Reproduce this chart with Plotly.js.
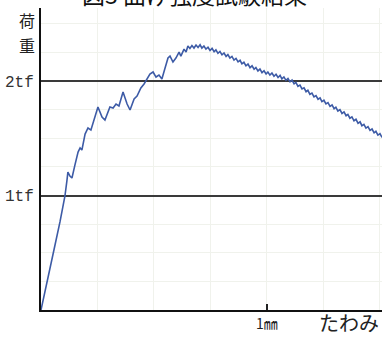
<!DOCTYPE html>
<html>
<head>
<meta charset="utf-8">
<script src="https://cdn.plot.ly/plotly-3.0.1.min.js"></script>
<style>html,body{margin:0;padding:0;background:#fff;}#chart{width:391px;height:338px;}</style>
</head>
<body>
<div id="chart"></div>
<script>
// deflection (mm)
const deflection = [
  0, 0.018, 0.040, 0.062, 0.084, 0.097, 0.106, 0.115, 0.119, 0.128, 0.137, 0.150, 0.164, 0.173, 0.181,
  0.195, 0.208, 0.221, 0.239, 0.252, 0.270, 0.283, 0.305, 0.319, 0.332, 0.345, 0.363, 0.381, 0.394,
  0.412, 0.425, 0.442, 0.456, 0.469, 0.482, 0.496, 0.509, 0.522, 0.535, 0.549, 0.562, 0.571, 0.584,
  0.597, 0.611, 0.619, 0.633, 0.642,
  0.650, 0.659, 0.668, 0.677, 0.686, 0.695, 0.704, 0.712, 0.721, 0.730, 0.739, 0.748, 0.757, 0.766,
  0.774, 0.783, 0.792, 0.801, 0.810, 0.819, 0.827, 0.836, 0.845, 0.854, 0.863, 0.872, 0.881, 0.889,
  0.898, 0.907, 0.916, 0.925, 0.934, 0.943, 0.951, 0.960, 0.969, 0.978, 0.987, 0.996, 1.004, 1.013,
  1.022, 1.031, 1.040, 1.049, 1.058, 1.066, 1.075, 1.084, 1.093, 1.102, 1.111, 1.120, 1.128, 1.137,
  1.146, 1.155, 1.164, 1.173, 1.181, 1.190, 1.199, 1.208, 1.217, 1.226, 1.235, 1.243, 1.252, 1.261,
  1.270, 1.279, 1.288, 1.297, 1.305, 1.314, 1.323, 1.332, 1.341, 1.350, 1.358, 1.367, 1.376, 1.385,
  1.394, 1.403, 1.412, 1.420, 1.429, 1.438, 1.447, 1.456, 1.465, 1.474, 1.482, 1.491, 1.500, 1.509
];
// load (tf)
const load = [
  0, 0.157, 0.367, 0.568, 0.769, 0.891, 0.996, 1.135, 1.205, 1.170, 1.153, 1.266, 1.380, 1.415, 1.397,
  1.537, 1.590, 1.572, 1.703, 1.773, 1.686, 1.659, 1.773, 1.764, 1.799, 1.782, 1.904, 1.799, 1.747,
  1.843, 1.869, 1.939, 1.974, 2.017, 2.061, 2.079, 2.035, 2.052, 2.017, 2.114, 2.201, 2.218, 2.166,
  2.201, 2.253, 2.218, 2.279, 2.253,
  2.306, 2.284, 2.310, 2.288, 2.314, 2.293, 2.317, 2.288, 2.306, 2.279, 2.295, 2.267, 2.285, 2.256,
  2.272, 2.242, 2.258, 2.229, 2.245, 2.215, 2.231, 2.201, 2.215, 2.183, 2.198, 2.167, 2.181, 2.150,
  2.164, 2.133, 2.148, 2.117, 2.133, 2.103, 2.118, 2.088, 2.104, 2.073, 2.090, 2.062, 2.079, 2.052,
  2.070, 2.042, 2.059, 2.031, 2.049, 2.019, 2.036, 2.006, 2.022, 1.993, 2.009, 1.976, 1.988, 1.954,
  1.965, 1.931, 1.941, 1.907, 1.919, 1.884, 1.894, 1.861, 1.873, 1.841, 1.853, 1.820, 1.832, 1.800,
  1.812, 1.779, 1.791, 1.758, 1.771, 1.738, 1.750, 1.717, 1.730, 1.697, 1.709, 1.675, 1.687, 1.653,
  1.666, 1.631, 1.644, 1.610, 1.622, 1.589, 1.602, 1.569, 1.581, 1.548, 1.561, 1.528, 1.540, 1.507
];
const yTickVals = [1, 2];
const yTickText = ["1tf", "2tf"];
const xTickVals = [1];
const xTickText = ["1㎜"];
const titleText = "図3 曲げ強度試験結果";
const yLabel = ["荷", "重"];
const xLabel = "たわみ";

const trace = {
  x: deflection, y: load, type: "scatter", mode: "lines",
  line: {color: "#3d5ba6", width: 1.6}, hoverinfo: "none"
};

const layout = {
  width: 391, height: 338,
  margin: {l: 41, r: 9, t: 8, b: 28},
  paper_bgcolor: "#ffffff", plot_bgcolor: "#ffffff",
  showlegend: false,
  font: {family: "Noto Sans CJK JP, DejaVu Sans, sans-serif", color: "#222"},
  xaxis: {
    range: [0, 1.509], showline: true, linecolor: "#111", linewidth: 2,
    tickmode: "array", tickvals: xTickVals, ticktext: xTickText,
    ticks: "inside", ticklen: 6, tickwidth: 2, tickcolor: "#222",
    tickfont: {size: 14, color: "#222", family: "Noto Sans CJK JP"},
    showgrid: false, zeroline: false, fixedrange: true,
    minor: {dtick: 0.25, tick0: 0, showgrid: true, gridcolor: "#f0f2ec", gridwidth: 1}
  },
  yaxis: {
    range: [0, 2.638], showline: true, linecolor: "#111", linewidth: 2,
    tickmode: "array", tickvals: yTickVals, ticktext: yTickText,
    ticks: "", ticklabelstandoff: 2,
    tickfont: {size: 16, color: "#333", family: "Liberation Mono, DejaVu Sans Mono, monospace"},
    showgrid: true, gridcolor: "#3a3a3a", gridwidth: 2,
    zeroline: false, fixedrange: true,
    minor: {dtick: 0.25, tick0: 0, showgrid: true, gridcolor: "#f0f2ec", gridwidth: 1}
  },
  annotations: [
    {text: titleText, xref: "paper", yref: "paper", x: 0.45, y: 1.045, xanchor: "center", yanchor: "middle",
     showarrow: false, font: {size: 23, color: "#111", family: "Noto Sans CJK JP"}},
    {text: yLabel[0], xref: "paper", yref: "paper", x: -0.042, y: 0.96, xanchor: "center", yanchor: "middle",
     showarrow: false, font: {size: 16, color: "#222", family: "Noto Sans CJK JP"}},
    {text: yLabel[1], xref: "paper", yref: "paper", x: -0.042, y: 0.877, xanchor: "center", yanchor: "middle",
     showarrow: false, font: {size: 16, color: "#222", family: "Noto Sans CJK JP"}},
    {text: xLabel, xref: "paper", yref: "paper", x: 0.997, y: -0.042, xanchor: "right", yanchor: "middle",
     showarrow: false, font: {size: 20, color: "#222", family: "Noto Sans CJK JP"}}
  ]
};

Plotly.newPlot("chart", [trace], layout, {displayModeBar: false, staticPlot: true});
</script>
</body>
</html>
